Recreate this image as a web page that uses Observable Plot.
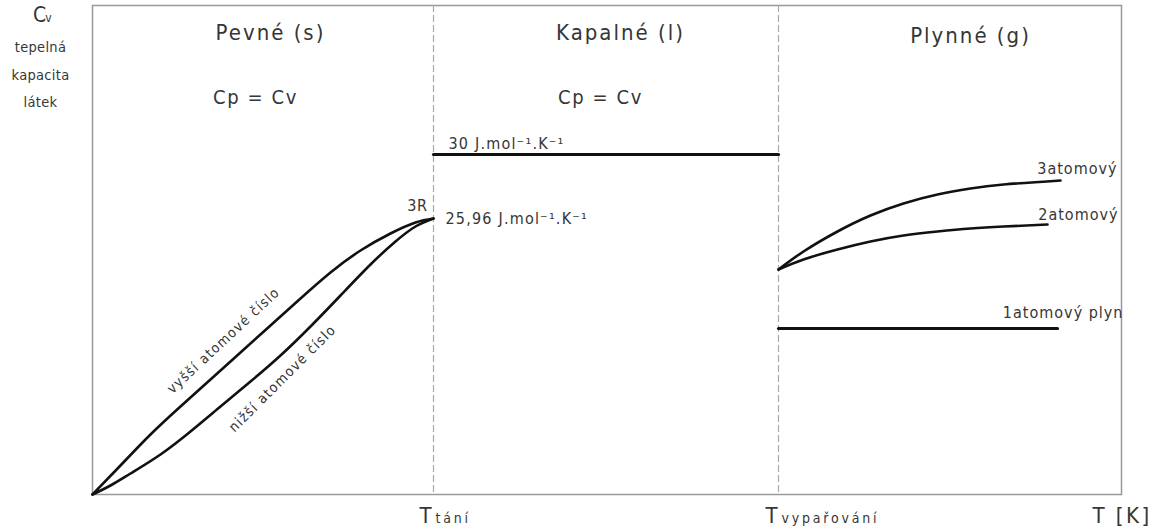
<!DOCTYPE html>
<html>
<head>
<meta charset="utf-8">
<script src="https://cdn.jsdelivr.net/npm/d3@7"></script>
<script src="https://cdn.jsdelivr.net/npm/@observablehq/plot@0.6"></script>
<style>
  html, body { margin: 0; padding: 0; background: #fff; }
  #chart svg { display: block; }
</style>
</head>
<body>
<div id="chart"></div>
<script>
// x: temperature (arbitrary units), y: Cv (arbitrary units)
const tTani = 341;
const tVyparovani = 686;
const tMax = 1029;
const cvMax = 489;

const solidHighT = [0, 28, 58, 88, 118, 148, 178, 208, 238, 268, 298, 323, 341];
const solidHighCv = [0, 29, 60, 88, 115, 142, 169, 196, 222, 244, 261, 272, 276];

const solidLowT = [0, 18, 38, 68, 98, 128, 158, 188, 218, 248, 278, 303, 323, 341];
const solidLowCv = [0, 9, 21, 40, 63, 88, 113, 139, 168, 199, 230, 253, 268, 276];

const liquidT = [341, 686];
const liquidCv = [340, 340];

const gas3T = [686, 711, 745, 778, 811, 845, 878, 911, 968];
const gas3Cv = [225, 243, 263, 279, 291, 300, 306, 310, 314];

const gas2T = [686, 711, 745, 778, 811, 845, 878, 911, 955];
const gas2Cv = [225, 235, 245, 253, 259, 263, 266, 268, 270];

const gas1T = [686, 965];
const gas1Cv = [166, 166];

const phaseLabels = ["Pevné (s)", "Kapalné (l)", "Plynné (g)"];

const zip = (xs, ys) => xs.map((x, i) => ({x, y: ys[i]}));

const font = "'DejaVu Sans Condensed', 'DejaVu Sans', sans-serif";
const ink = "#363636";

const plot = Plot.plot({
  width: 1156,
  height: 529,
  marginLeft: 92,
  marginRight: 35,
  marginTop: 5,
  marginBottom: 35,
  x: {domain: [0, tMax], axis: null},
  y: {domain: [0, cvMax], axis: null},
  style: {fontFamily: font, background: "#fff", overflow: "visible"},
  marks: [
    Plot.frame({stroke: "#999", strokeWidth: 1.5}),
    Plot.ruleX([tTani, tVyparovani], {stroke: "#aaa", strokeWidth: 1.2, strokeDasharray: "7,3"}),
    Plot.line(zip(solidHighT, solidHighCv), {x: "x", y: "y", curve: "natural", stroke: "#111", strokeWidth: 2.6}),
    Plot.line(zip(solidLowT, solidLowCv), {x: "x", y: "y", curve: "natural", stroke: "#111", strokeWidth: 2.6}),
    Plot.line(zip(liquidT, liquidCv), {x: "x", y: "y", stroke: "#111", strokeWidth: 3.2}),
    Plot.line(zip(gas3T, gas3Cv), {x: "x", y: "y", curve: "natural", stroke: "#111", strokeWidth: 2.6}),
    Plot.line(zip(gas2T, gas2Cv), {x: "x", y: "y", curve: "natural", stroke: "#111", strokeWidth: 2.6}),
    Plot.line(zip(gas1T, gas1Cv), {x: "x", y: "y", stroke: "#111", strokeWidth: 3.2}),
    // phase headers
    Plot.text(phaseLabels, {x: [178, 528, 878], y: [462, 462, 459], text: d => d, fontSize: 22, fill: ink}),
    Plot.text(["Cp = Cv", "Cp = Cv"], {x: [163, 508], y: [397, 397], text: d => d, fontSize: 20, fill: ink}),
    // left axis label
    Plot.text(["C"], {x: [-53], y: [479], text: d => d, fontSize: 21, fill: ink}),
    Plot.text(["v"], {x: [-44], y: [476], text: d => d, fontSize: 12, fill: ink}),
    Plot.text(["tepelná", "kapacita", "látek"], {x: [-52, -52, -52], y: [447, 419, 392], text: d => d, fontSize: 14.5, fill: ink}),
    // values
    Plot.text(["3R"], {x: [335], y: [289], text: d => d, textAnchor: "end", fontSize: 16, fill: ink}),
    Plot.text(["25,96 J.mol⁻¹.K⁻¹"], {x: [353], y: [276], text: d => d, textAnchor: "start", fontSize: 16, fill: ink}),
    Plot.text(["30 J.mol⁻¹.K⁻¹"], {x: [356], y: [351], text: d => d, textAnchor: "start", fontSize: 16, fill: ink}),
    // gas labels
    Plot.text(["3atomový"], {x: [1025], y: [326], text: d => d, textAnchor: "end", fontSize: 16, fill: ink}),
    Plot.text(["2atomový"], {x: [1026], y: [280], text: d => d, textAnchor: "end", fontSize: 16, fill: ink}),
    Plot.text(["1atomový plyn"], {x: [1031], y: [182], text: d => d, textAnchor: "end", fontSize: 16, fill: ink}),
    // rotated curve labels
    Plot.text(["vyšší atomové číslo"], {x: [131], y: [154], text: d => d, rotate: -43, fontSize: 14, fill: ink}),
    Plot.text(["nižší atomové číslo"], {x: [190], y: [116], text: d => d, rotate: -45, fontSize: 14, fill: ink}),
    // x-axis labels
    Plot.text(["T", "T"], {x: [tTani - 8, tVyparovani - 7], y: [-21, -21], text: d => d, fontSize: 22, fill: ink}),
    Plot.text(["tání", "vypařování"], {x: [tTani + 2, tVyparovani + 3], y: [-24, -24], text: d => d, textAnchor: "start", fontSize: 14, fill: ink}),
    Plot.text(["T [K]"], {x: [1000], y: [-21], text: d => d, textAnchor: "start", fontSize: 22, fill: ink})
  ]
});

// typographic letter spacing to imitate the technical lettering of the original
const spacing = new Map([
  ...phaseLabels.map(t => [t, "2px"]),
  ["Cp = Cv", "1.6px"],
  ["T [K]", "2.5px"],
  ["3R", "0.5px"],
  ["25,96 J.mol⁻¹.K⁻¹", "1.2px"],
  ["30 J.mol⁻¹.K⁻¹", "1.2px"],
  ["3atomový", "1px"],
  ["2atomový", "1px"],
  ["1atomový plyn", "1px"],
  ["vyšší atomové číslo", "1.3px"],
  ["nižší atomové číslo", "1.3px"],
  ["tání", "2.8px"],
  ["vypařování", "2.8px"],
  ["tepelná", "0.3px"],
  ["kapacita", "0.3px"],
  ["látek", "0.3px"]
]);
d3.select(plot).selectAll("text").each(function() {
  const s = spacing.get(this.textContent);
  if (s) this.style.letterSpacing = s;
});
document.getElementById("chart").appendChild(plot);
</script>
</body>
</html>
